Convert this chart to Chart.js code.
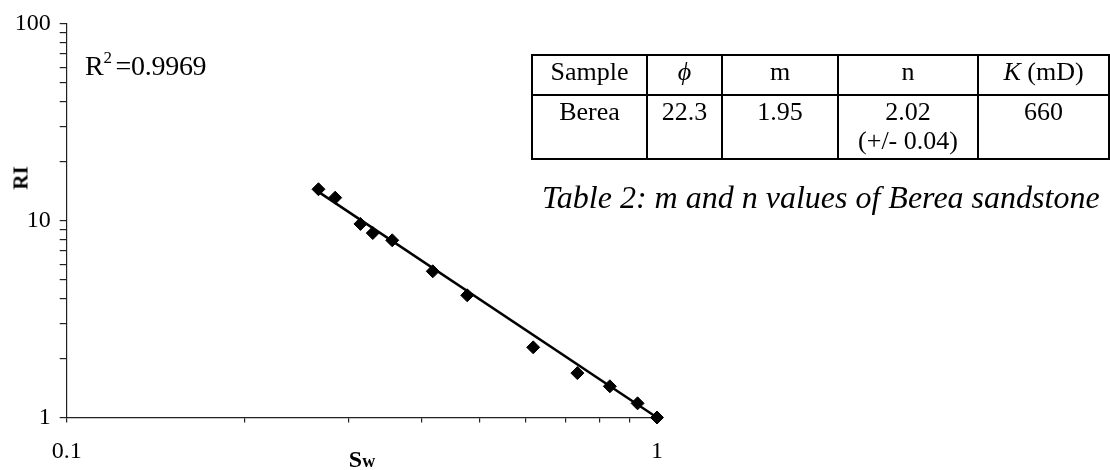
<!DOCTYPE html>
<html>
<head>
<meta charset="utf-8">
<script src="https://cdn.jsdelivr.net/npm/chart.js@4.4.1/dist/chart.umd.min.js"></script>
<style>
  html, body { margin: 0; padding: 0; background: #fff; }
  #wrap {
    position: relative; width: 1110px; height: 470px; overflow: hidden;
    font-family: "Liberation Serif", "Times New Roman", serif; color: #000;
  }
  #riChart { position: absolute; left: 0; top: 0; }
  .txt { position: absolute; white-space: nowrap; line-height: 1; }
  #r2 { left: 85px; top: 52px; font-size: 28px; letter-spacing: -0.3px; }
  #r2 sup { font-size: 17px; vertical-align: 0; position: relative; top: -12px; margin-right: 4px; }
  #ytitle { left: 21px; top: 178px; font-size: 21px; font-weight: bold;
            transform: translate(-50%, -50%) rotate(-90deg); }
  #xtitle { left: 362px; top: 447px; font-size: 24px; font-weight: bold;
            transform: translateX(-50%); }
  #xtitle span { font-size: 18px; }
  #tbl {
    position: absolute; left: 531px; top: 54px; width: 577px; height: 106px;
    border-collapse: collapse; font-size: 26px; table-layout: fixed;
  }
  #tbl td { border: 2px solid #000; text-align: center; vertical-align: top;
            padding: 1px 0 0 0; line-height: 29px; }
  #tbl tr.r1 td { height: 37px; }
  #caption { left: 542px; top: 181px; font-size: 32px; font-style: italic; }
</style>
</head>
<body>
<div id="wrap">
  <canvas id="riChart" width="1110" height="470"></canvas>
  <div class="txt" id="r2">R<sup>2</sup>=0.9969</div>
  <div class="txt" id="ytitle">RI</div>
  <div class="txt" id="xtitle">S<span>w</span></div>
  <table id="tbl">
    <colgroup>
      <col style="width:115px"><col style="width:75px"><col style="width:116px"><col style="width:140px"><col style="width:131px">
    </colgroup>
    <tr class="r1"><td>Sample</td><td><i>ϕ</i></td><td>m</td><td>n</td><td><i>K</i> (mD)</td></tr>
    <tr><td>Berea</td><td>22.3</td><td>1.95</td><td>2.02<br>(+/- 0.04)</td><td>660</td></tr>
  </table>
  <div class="txt" id="caption">Table 2: m and n values of Berea sandstone</div>
</div>

<script>
// --- DATA ---
var swValues = [0.267, 0.285, 0.3145, 0.330, 0.356, 0.417, 0.477, 0.617, 0.733, 0.832, 0.927, 1.0];
var riValues = [14.4, 13.05, 9.6, 8.63, 7.93, 5.52, 4.17, 2.27, 1.68, 1.44, 1.18, 1.0];

// power-law trend line end points (straight on log-log)
var fitSw = [0.262, 1.0];
var fitRi = [14.5, 1.0];

// tick marks: one per 1..9 step of each decade, labels only on decades
var xTicks = [0.1, 0.2, 0.3, 0.4, 0.5, 0.6, 0.7, 0.8, 0.9, 1];
var yTicks = [1, 2, 3, 4, 5, 6, 7, 8, 9, 10, 20, 30, 40, 50, 60, 70, 80, 90, 100];
var xTickLabels = ['0.1', '1'];
var yTickLabels = ['1', '10', '100'];

function toPoints(xs, ys) {
  return xs.map(function (x, i) { return { x: x, y: ys[i] }; });
}

function decadeLabel(list) {
  return function (value) {
    for (var i = 0; i < list.length; i++) {
      var v = Number(list[i]);
      if (Math.abs(value - v) < v * 1e-6) return list[i];
    }
    return '';
  };
}

function fixedTicks(values) {
  return function (scale) {
    scale.ticks = values.map(function (v) { return { value: v }; });
  };
}

var ctx = document.getElementById('riChart').getContext('2d');

new Chart(ctx, {
  type: 'scatter',
  data: {
    datasets: [{
      label: 'RI',
      data: toPoints(swValues, riValues),
      pointStyle: 'rectRot',
      pointRadius: 6.5,
      pointBackgroundColor: '#000',
      pointBorderColor: '#000',
      pointBorderWidth: 1,
      showLine: false,
      clip: false
    }, {
      label: 'fit',
      data: toPoints(fitSw, fitRi),
      showLine: true,
      borderColor: '#000',
      borderWidth: 2.5,
      pointRadius: 0,
      fill: false,
      clip: false
    }]
  },
  options: {
    responsive: false,
    animation: false,
    devicePixelRatio: 1,
    layout: { padding: { top: 16, right: 453, left: 0, bottom: 0 } },
    plugins: { legend: { display: false }, tooltip: { enabled: false } },
    scales: {
      x: {
        type: 'logarithmic',
        min: 0.1, max: 1,
        afterBuildTicks: fixedTicks(xTicks),
        afterFit: function (scale) { scale.height = 52.5; },
        border: { display: true, color: '#222', width: 1.2 },
        grid: { drawOnChartArea: false, color: '#222', tickLength: 5, lineWidth: 1.2 },
        ticks: {
          autoSkip: false, maxRotation: 0, padding: 15, color: '#000',
          font: { family: 'Liberation Serif', size: 24 },
          callback: decadeLabel(xTickLabels)
        }
      },
      y: {
        type: 'logarithmic',
        min: 1, max: 100,
        afterBuildTicks: fixedTicks(yTicks),
        afterFit: function (scale) { scale.width = 66.7; },
        border: { display: true, color: '#222', width: 1.2 },
        grid: { drawOnChartArea: false, color: '#222', tickLength: 7, lineWidth: 1.2 },
        ticks: {
          autoSkip: false, padding: 9, color: '#000',
          font: { family: 'Liberation Serif', size: 24 },
          callback: decadeLabel(yTickLabels)
        }
      }
    }
  }
});
</script>
</body>
</html>
